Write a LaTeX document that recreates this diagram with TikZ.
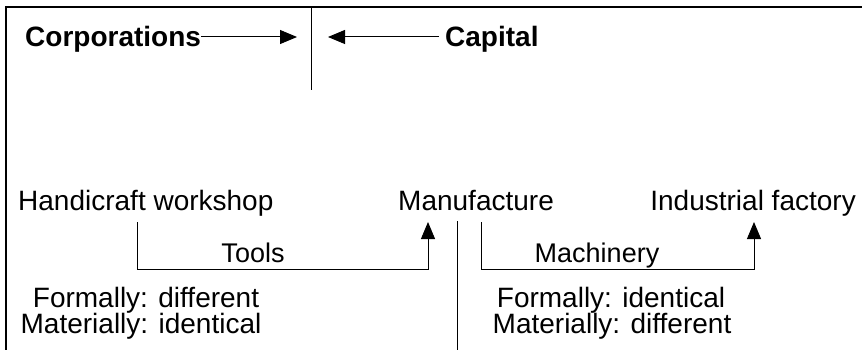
\documentclass[tikz,border=0pt]{standalone}
\usepackage{fontspec}
\setmainfont{Liberation Sans}
\usetikzlibrary{arrows.meta,positioning,calc}
\tikzset{
    head-label/.style={
        anchor=base west,
        inner sep=0pt,
        font=\fontsize{28}{32}\selectfont\bfseries
    },
    stage-label/.style={
        anchor=base west,
        inner sep=0pt,
        font=\fontsize{28}{32}\selectfont
    },
    means-label/.style={
        anchor=base,
        inner sep=0pt,
        font=\fontsize{27}{32}\selectfont
    },
    note-label/.style={
        anchor=base,
        inner sep=0pt,
        font=\fontsize{28}{32}\selectfont
    },
    rule/.style={
        draw=black,
        line width=1pt
    },
    flow/.style={
        rule,
        -{Triangle[length=17pt,width=14pt]}
    },
}

\begin{document}
\begin{tikzpicture}[x=1pt,y=-1pt]
    \useasboundingbox (0,0) rectangle (862,350);
    % frame and dividers
    \draw[rule,line width=1.3pt] (862,7) -- (6,7) -- (6,350);
    \coordinate (D1) at (311,7);
    \coordinate (D1b) at (311,90);
    \draw[rule] (D1) -- (D1b);
    \coordinate (D2) at (457,221);
    \coordinate (D2b) at (457,350);
    \draw[rule] (D2) -- (D2b);

    % top row
    \node [head-label] (corp) at (25,47) {Corporations};
    \node [head-label] (cap) at (445,47) {Capital};
    \coordinate (corptip) at (297,37);
    \coordinate (captip) at (328,37);
    \draw[flow] (corptip -| corp.east) -- (corptip);
    \draw[flow] ([xshift=-6pt]captip -| cap.west) -- (captip);

    % stages
    \node [stage-label] (hw) at (18,210) {Handicraft workshop};
    \node [stage-label] (mf) at (398,210) {Manufacture};
    \node [stage-label,anchor=base east] (if) at (856,210) {Industrial factory};

    % means of production
    \coordinate (base) at (0,269);
    \coordinate (ts) at (137,222);
    \coordinate (te) at (428,222);
    \coordinate (ms) at (481,222);
    \coordinate (me) at (754,222);
    \draw[flow] (ts) |- (base -| te) -- (te);
    \draw[flow] (ms) |- (base -| me) -- (me);
    \node [means-label] (tools) at (253,262) {Tools};
    \node [means-label] (mach) at (597,262) {Machinery};

    % notes
    \node [note-label] (nl1) at (146,307) {Formally: different};
    \node [note-label] (nl2) at (141,333) {Materially: identical};
    \node [note-label] (nr1) at (611,307) {Formally: identical};
    \node [note-label] (nr2) at (612,333) {Materially: different};
\end{tikzpicture}
\end{document}
